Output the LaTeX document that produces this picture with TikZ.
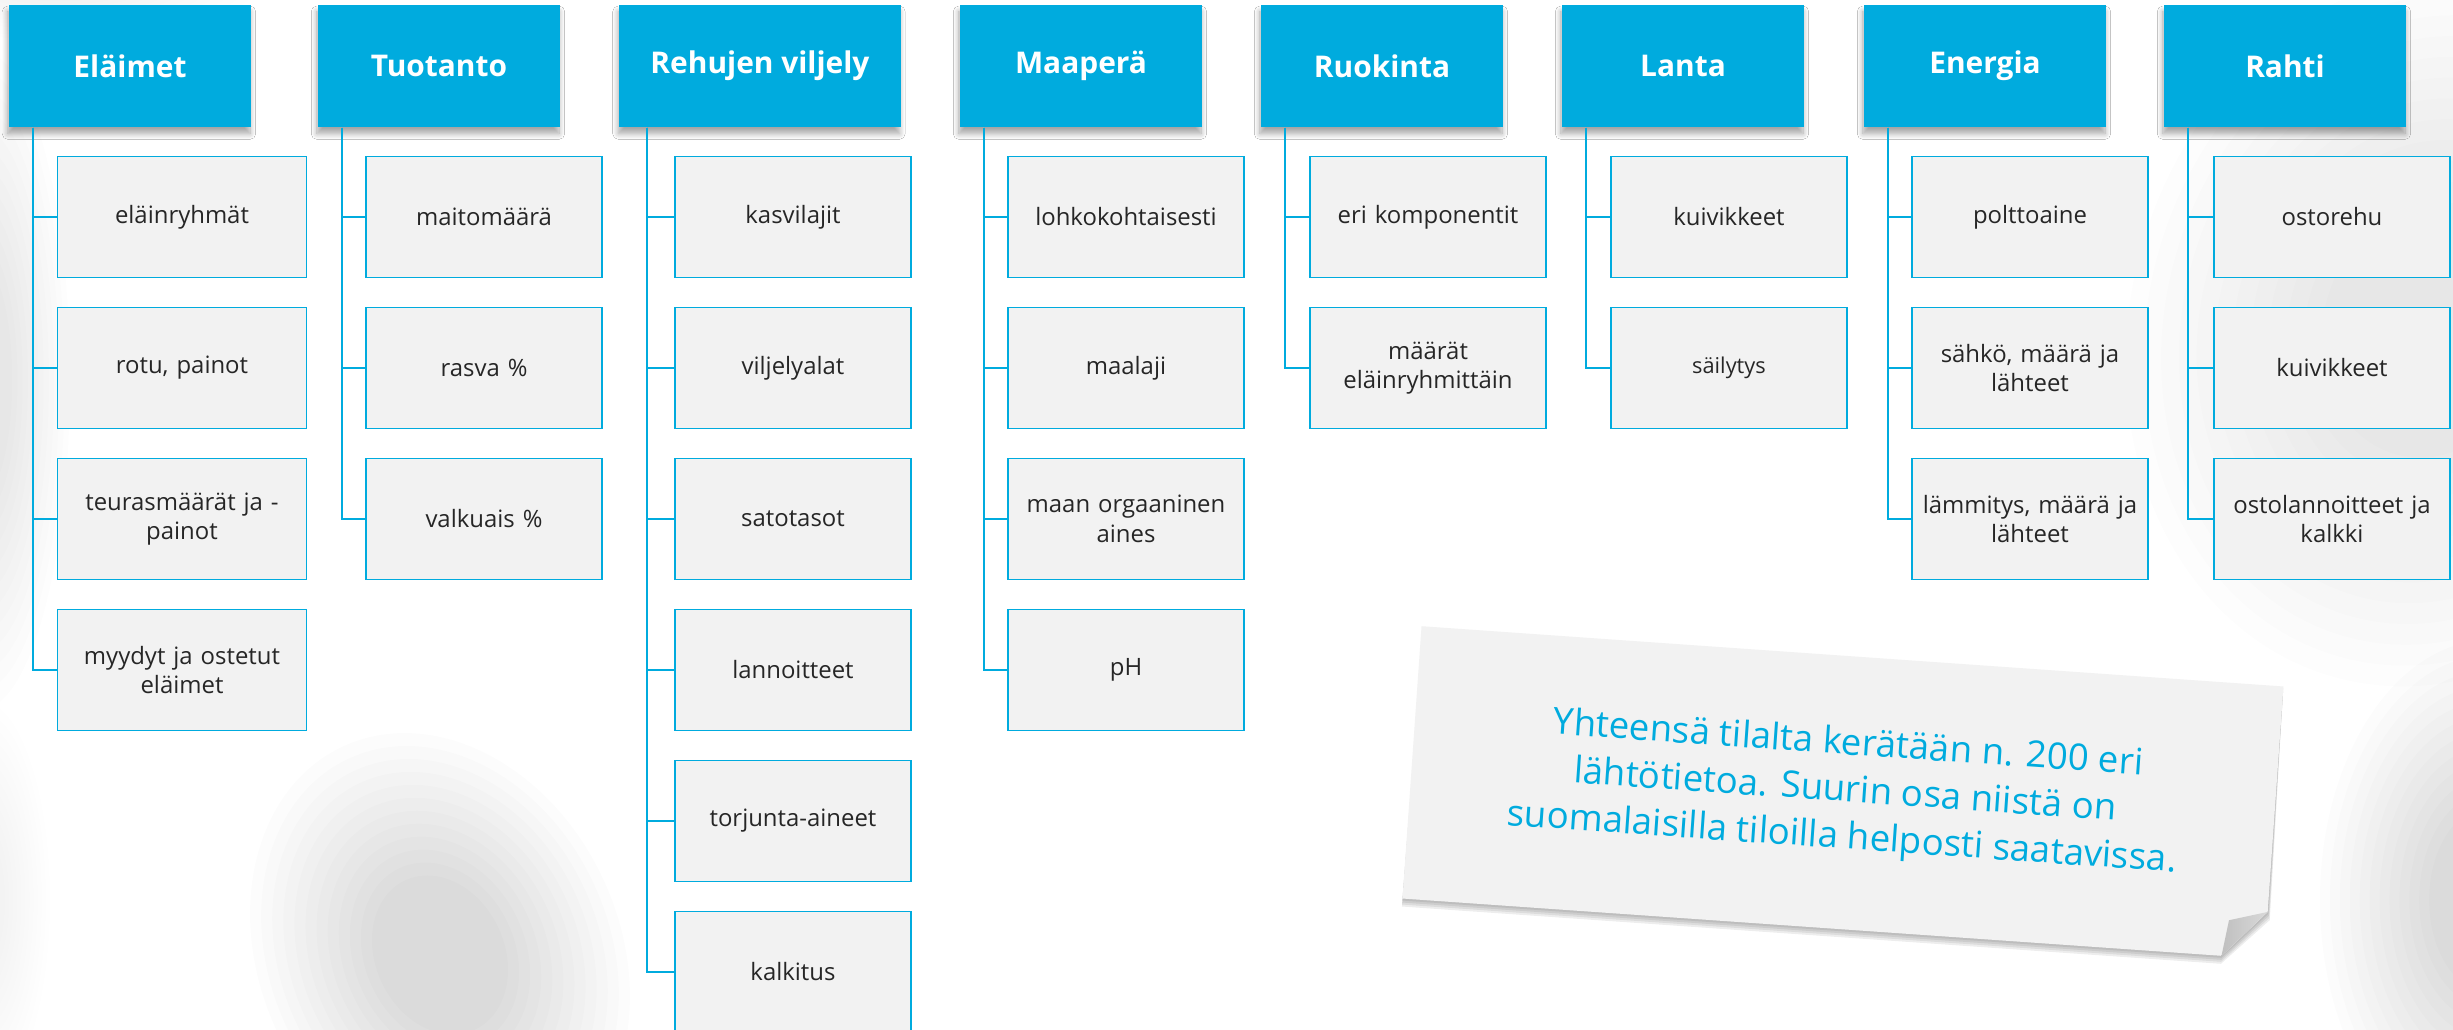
\documentclass[tikz,border=0pt]{standalone}
\usepackage{fontspec}
\setmainfont{Open Sans}
\usetikzlibrary{shadows.blur}
\definecolor{lukecyan}{HTML}{00ABDE}
\definecolor{boxgray}{HTML}{F2F2F2}
\definecolor{txtgray}{HTML}{262626}

\begin{document}
\begin{tikzpicture}[x=0.01cm,y=-0.01cm,
    head/.style={fill=lukecyan, text=white, minimum width=2.42cm, minimum height=1.22cm, inner sep=0pt,
      font=\fontsize{8.5}{10}\selectfont\bfseries,
      blur shadow={shadow xshift=-0.3pt, shadow yshift=-1.9pt, shadow blur radius=1.6pt, shadow blur steps=8, shadow opacity=35}},
    item/.style={draw=lukecyan, line width=0.45pt, fill=boxgray, text=txtgray, text width=2.3cm,
      inner xsep=0.03cm, minimum height=1.21cm, align=center, font=\fontsize{6.8}{8.4}\selectfont},
    link/.style={lukecyan, line width=0.55pt}]
    \useasboundingbox (0,0) rectangle (2453,1030);
    \fill[white] (0,0) rectangle (2453,1030);

    % soft grey shapes in the background: stacked faint ellipses
    \foreach \cx/\cy/\rx/\ry/\ang/\op in {440/955/180/230/25/0.013, 2430/330/300/360/-15/0.009,
        2490/900/170/260/0/0.013, -20/380/90/330/0/0.008, -20/900/70/200/0/0.005, 60/-20/200/60/0/0.005}
        \foreach \k in {1,...,12}
            \fill[black, opacity=\op, rotate around={\ang:(\cx,\cy)}]
                (\cx,\cy) ellipse ({\rx*(0.3+0.7*\k/12)} and {\ry*(0.3+0.7*\k/12)});

    % Eläimet
    \node[head] (elaimet) at (130,66) {Eläimet};
    \coordinate (elaimet-t) at ([xshift=0.25cm]elaimet.south west);
    \foreach \t [count=\i] in {eläinryhmät, {rotu, painot}, {teurasmäärät ja -\\painot}, {myydyt ja ostetut\\eläimet}} {
        \node[item, text width=2.43cm] (elaimet-\i) at (182,66+151*\i) {\t};
        \draw[link] (elaimet-t) |- (elaimet-\i.west);
    }

    % Tuotanto
    \node[head] (tuotanto) at (439,66) {Tuotanto};
    \coordinate (tuotanto-t) at ([xshift=0.25cm]tuotanto.south west);
    \foreach \t [count=\i] in {maitomäärä, rasva \%, valkuais \%} {
        \node[item] (tuotanto-\i) at (484,66+151*\i) {\t};
        \draw[link] (tuotanto-t) |- (tuotanto-\i.west);
    }

    % Rehujen viljely
    \node[head, minimum width=2.81cm] (rehut) at (760,66) {Rehujen viljely};
    \coordinate (rehut-t) at ([xshift=0.28cm]rehut.south west);
    \foreach \t [count=\i] in {kasvilajit, viljelyalat, satotasot, lannoitteet, torjunta-aineet, kalkitus} {
        \node[item] (rehut-\i) at (793,66+151*\i) {\t};
        \draw[link] (rehut-t) |- (rehut-\i.west);
    }

    % Maaperä
    \node[head] (maapera) at (1081,66) {Maaperä};
    \coordinate (maapera-t) at ([xshift=0.25cm]maapera.south west);
    \foreach \t [count=\i] in {lohkokohtaisesti, maalaji, {maan orgaaninen\\aines}, pH} {
        \node[item] (maapera-\i) at (1126,66+151*\i) {\t};
        \draw[link] (maapera-t) |- (maapera-\i.west);
    }

    % Ruokinta
    \node[head] (ruokinta) at (1382,66) {Ruokinta};
    \coordinate (ruokinta-t) at ([xshift=0.25cm]ruokinta.south west);
    \foreach \t [count=\i] in {eri komponentit, {määrät\\eläinryhmittäin}} {
        \node[item] (ruokinta-\i) at (1428,66+151*\i) {\t};
        \draw[link] (ruokinta-t) |- (ruokinta-\i.west);
    }

    % Lanta
    \node[head] (lanta) at (1683,66) {Lanta};
    \coordinate (lanta-t) at ([xshift=0.25cm]lanta.south west);
    \foreach \t [count=\i] in {kuivikkeet, {\fontsize{6.2}{8}\selectfont säilytys}} {
        \node[item] (lanta-\i) at (1729,66+151*\i) {\t};
        \draw[link] (lanta-t) |- (lanta-\i.west);
    }

    % Energia
    \node[head] (energia) at (1985,66) {Energia};
    \coordinate (energia-t) at ([xshift=0.25cm]energia.south west);
    \foreach \t [count=\i] in {polttoaine, {sähkö, määrä ja\\lähteet}, {lämmitys, määrä ja\\lähteet}} {
        \node[item] (energia-\i) at (2030,66+151*\i) {\t};
        \draw[link] (energia-t) |- (energia-\i.west);
    }

    % Rahti
    \node[head] (rahti) at (2285,66) {Rahti};
    \coordinate (rahti-t) at ([xshift=0.25cm]rahti.south west);
    \foreach \t [count=\i] in {ostorehu, kuivikkeet, {ostolannoitteet ja\\kalkki}} {
        \node[item] (rahti-\i) at (2332,66+151*\i) {\t};
        \draw[link] (rahti-t) |- (rahti-\i.west);
    }

    % the note sheet, corner folded
    \begin{scope}[shift={(1843,792)}, rotate=-4]
        \foreach \d in {2,4,6,8}
            \fill[black, opacity=0.07] (-430,-136+\d) -- (432,-136+\d) -- (432+\d/3,90+\d) -- (389,137+\d) -- (-432,137+\d) -- cycle;
        \fill[boxgray] (-432,-136) -- (432,-136) -- (432,90) -- (389,137) -- (-432,137) -- cycle;
        \shade[left color=black!25, right color=black!15] (432,90) -- (394,101) -- (389,137) -- cycle;
    \end{scope}
    \node[text=lukecyan, rotate=-4, align=center, font=\fontsize{10.4}{13.4}\selectfont] (note) at (1845,792)
        {Yhteensä tilalta kerätään n. 200 eri\\lähtötietoa. Suurin osa niistä on\\suomalaisilla tiloilla helposti saatavissa.};
\end{tikzpicture}
\end{document}
